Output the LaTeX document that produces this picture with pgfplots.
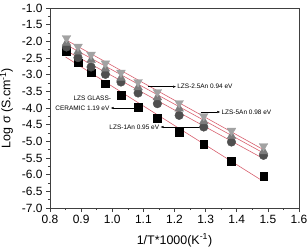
\documentclass[border=0pt]{standalone}
\usepackage{fontspec}
\setmainfont{Liberation Sans}
\usepackage{pgfplots}
\usepackage{pgfplotstable}
\pgfplotsset{compat=1.18}
\usetikzlibrary{arrows.meta}

\definecolor{fitred}{HTML}{D8606E}
\definecolor{circgray}{HTML}{4F4F4F}
\definecolor{upgray}{HTML}{7C7C7C}
\definecolor{downgray}{HTML}{A2A2A2}

% 1000/T and log conductivity of each composition
\pgfplotstableread{
x      gc     an1    an5    an25
0.853  -2.29  -2.17  -2.05  -1.90
0.890  -2.64  -2.49  -2.31  -2.16
0.932  -2.94  -2.77  -2.56  -2.40
0.978  -3.27  -2.99  -2.82  -2.66
1.028  -3.62  -3.22  -3.10  -2.94
1.083  -3.97  -3.55  -3.38  -3.22
1.145  -4.30  -3.87  -3.68  -3.52
1.215  -4.72  -4.22  -4.02  -3.85
1.294  -5.09  -4.57  -4.40  -4.24
1.383  -5.59  -5.02  -4.84  -4.68
1.486  -6.05  -5.42  -5.30  -5.14
}\condtable

\begin{document}
\begin{tikzpicture}
\begin{axis}[
  scale only axis,
  width=249bp, height=200bp,
  xmin=0.8, xmax=1.6, ymin=-7, ymax=-1,
  xtick={0.8,0.9,1.0,1.1,1.2,1.3,1.4,1.5,1.6},
  ytick={-7,-6.5,-6,-5.5,-5,-4.5,-4,-3.5,-3,-2.5,-2,-1.5,-1},
  minor x tick num=1, minor y tick num=1,
  tick align=outside, tick pos=left,
  major tick length=4bp, minor tick length=2.2bp,
  /pgf/number format/assume math mode=true,
  /pgf/number format/fixed, /pgf/number format/fixed zerofill,
  /pgf/number format/precision=1,
  tick label style={font=\fontsize{12}{12}\selectfont},
  label style={font=\fontsize{12.5}{13}\selectfont},
  xlabel={1/T*1000(K\textsuperscript{-1})},
  ylabel={Log σ (S.cm\textsuperscript{-1})},
  xlabel style={yshift=-3bp},
  ylabel style={yshift=2bp},
  axis line style={black!75, line width=0.7pt},
  every tick/.style={black!75, line width=0.6pt},
  clip=false,
]
\addplot[only marks, mark=square*, mark size=3.8bp, black] table[x=x,y=gc]{\condtable};
\addplot[only marks, mark=*, mark size=4.3bp, circgray] table[x=x,y=an1]{\condtable};
\addplot[only marks, mark=triangle*, mark size=5bp, upgray] table[x=x,y=an5]{\condtable};
\addplot[only marks, mark=triangle*, mark size=5bp, downgray, every mark/.append style={rotate=180}] table[x=x,y=an25]{\condtable};

% linear Arrhenius fits
\addplot[fitred, line width=0.6pt] coordinates {(0.850,-1.95) (1.480,-5.22)};
\addplot[fitred, line width=0.6pt] coordinates {(0.850,-2.09) (1.480,-5.32)};
\addplot[fitred, line width=0.6pt] coordinates {(0.850,-2.27) (1.480,-5.49)};
\addplot[fitred, line width=0.6pt] coordinates {(0.850,-2.47) (1.480,-6.17)};

% activation energy labels
\begin{scope}[font=\fontsize{6.5}{7}\selectfont, every node/.style={inner sep=0.5bp}]
\draw[line width=0.4pt, -{Latex[length=3bp,width=2.4bp]}] (axis cs:1.116,-3.36) -- (axis cs:1.205,-3.36);
\node[anchor=west] at (axis cs:1.207,-3.36) {LZS-2.5An 0.94 eV};
\draw[line width=0.4pt, -{Latex[length=3bp,width=2.4bp]}] (axis cs:1.284,-4.12) -- (axis cs:1.347,-4.12);
\node[anchor=west] at (axis cs:1.349,-4.12) {LZS-5An 0.98 eV};
\draw[line width=0.4pt, -{Latex[length=3bp,width=2.4bp]}] (axis cs:1.075,-4.00) -- (axis cs:0.995,-4.00);
\node[anchor=east] at (axis cs:0.993,-4.00) {CERAMIC 1.19 eV};
\node at (axis cs:0.936,-3.71) {LZS GLASS-};
\draw[line width=0.4pt, -{Latex[length=3bp,width=2.4bp]}] (axis cs:1.290,-4.57) -- (axis cs:1.155,-4.57);
\node[anchor=east] at (axis cs:1.153,-4.57) {LZS-1An 0.95 eV};
\end{scope}
\end{axis}
\pgfresetboundingbox
\path ([shift={(-50bp,-42bp)}]current axis.south west) rectangle ([shift={(9bp,8bp)}]current axis.north east);
\end{tikzpicture}
\end{document}
